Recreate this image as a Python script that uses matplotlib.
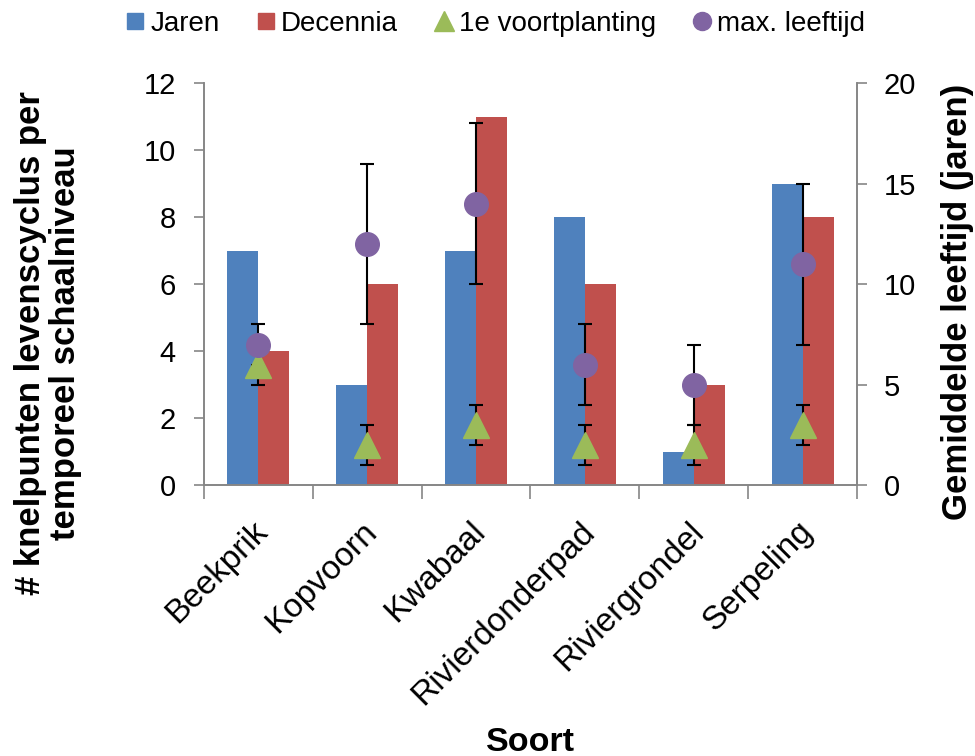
import numpy as np
import matplotlib
matplotlib.use("Agg")
import matplotlib.pyplot as plt
import matplotlib.transforms as mtransforms
from matplotlib.lines import Line2D

plt.rcParams['font.family'] = ['Liberation Sans', 'DejaVu Sans']

# data
soorten = ['Beekprik', 'Kopvoorn', 'Kwabaal', 'Rivierdonderpad', 'Riviergrondel', 'Serpeling']
jaren = [7, 3, 7, 8, 1, 9]
decennia = [4, 6, 11, 6, 3, 8]
voortplanting = [6, 2, 3, 2, 2, 3]
voortplanting_err = [1, 1, 1, 1, 1, 1]
max_leeftijd = [7, 12, 14, 6, 5, 11]
max_leeftijd_err = [1, 4, 4, 2, 2, 4]

blue = '#4F81BD'
red = '#C0504D'
green = '#9BBB59'
purple = '#8064A2'
grey = '#868686'

fig = plt.figure(figsize=(9.75, 7.56), dpi=100)
ax = fig.add_axes([0.209, 0.358, 0.670, 0.532])
ax2 = ax.twinx()

x = np.arange(len(soorten))
w = 0.285
ax.bar(x - w / 2, jaren, w, color=blue, zorder=2)
ax.bar(x + w / 2, decennia, w, color=red, zorder=2)

# error bars first, markers on top
ax2.errorbar(x, voortplanting, yerr=voortplanting_err, fmt='none', ecolor='black',
             elinewidth=1.5, capsize=5, capthick=1.5, zorder=3)
ax2.errorbar(x, max_leeftijd, yerr=max_leeftijd_err, fmt='none', ecolor='black',
             elinewidth=1.5, capsize=5, capthick=1.5, zorder=3)
ax2.plot(x, voortplanting, linestyle='none', marker='^', markersize=19,
         color=green, markeredgecolor=green, zorder=4)
ax2.plot(x, max_leeftijd, linestyle='none', marker='o', markersize=17,
         color=purple, markeredgecolor=purple, zorder=4)

ax.set_xlim(-0.5, len(soorten) - 0.5)
ax.set_ylim(0, 12)
ax2.set_ylim(0, 20)
ax.set_yticks(range(0, 13, 2))
ax2.set_yticks(range(0, 21, 5))

# category ticks on the boundaries, labels in the middle
ax.set_xticks(np.arange(-0.5, len(soorten), 1))
ax.set_xticklabels([])
ax.set_xticks(x, minor=True)
ax.set_xticklabels(soorten, minor=True, rotation=45, ha='right', va='top',
                   rotation_mode='anchor', fontsize=24)
ax.tick_params(axis='x', which='minor', length=0, pad=22)
ax.tick_params(axis='x', which='major', length=10, color=grey, width=1.2)
shift = mtransforms.ScaledTranslation(-6 / 100, 0, fig.dpi_scale_trans)
for lab in ax.get_xticklabels(minor=True):
    lab.set_transform(lab.get_transform() + shift)

ax.tick_params(axis='y', labelsize=21, length=7, color=grey, width=1.2, pad=13)
ax2.tick_params(axis='y', labelsize=21, length=7, color=grey, width=1.2, pad=12)

for a in (ax, ax2):
    a.spines['top'].set_visible(False)
    for s in ('left', 'right', 'bottom'):
        a.spines[s].set_color(grey)
        a.spines[s].set_linewidth(1.2)

ax.set_ylabel('# knelpunten levenscyclus per\ntemporeel schaalniveau',
              fontsize=25, fontweight='bold', linespacing=1.05)
ax.yaxis.set_label_coords(-0.187, 0.353)
ax2.set_ylabel('Gemiddelde leeftijd (jaren)', fontsize=25, fontweight='bold')
ax2.yaxis.set_label_coords(1.128, 0.455)
ax.set_xlabel('Soort', fontsize=24.5, fontweight='bold')
ax.xaxis.set_label_coords(0.5, -0.60)

handles = [
    Line2D([], [], linestyle='none', marker='s', markersize=11, color=blue),
    Line2D([], [], linestyle='none', marker='s', markersize=11, color=red),
    Line2D([], [], linestyle='none', marker='^', markersize=15, color=green),
    Line2D([], [], linestyle='none', marker='o', markersize=13, color=purple),
]
fig.legend(handles, ['Jaren', 'Decennia', '1e voortplanting', 'max. leeftijd'],
           loc='center', bbox_to_anchor=(0.508, 0.968), ncol=4, frameon=False,
           fontsize=20, handlelength=0.7, handletextpad=0.2, columnspacing=1.3)

fig.savefig('out.png', dpi=100)
